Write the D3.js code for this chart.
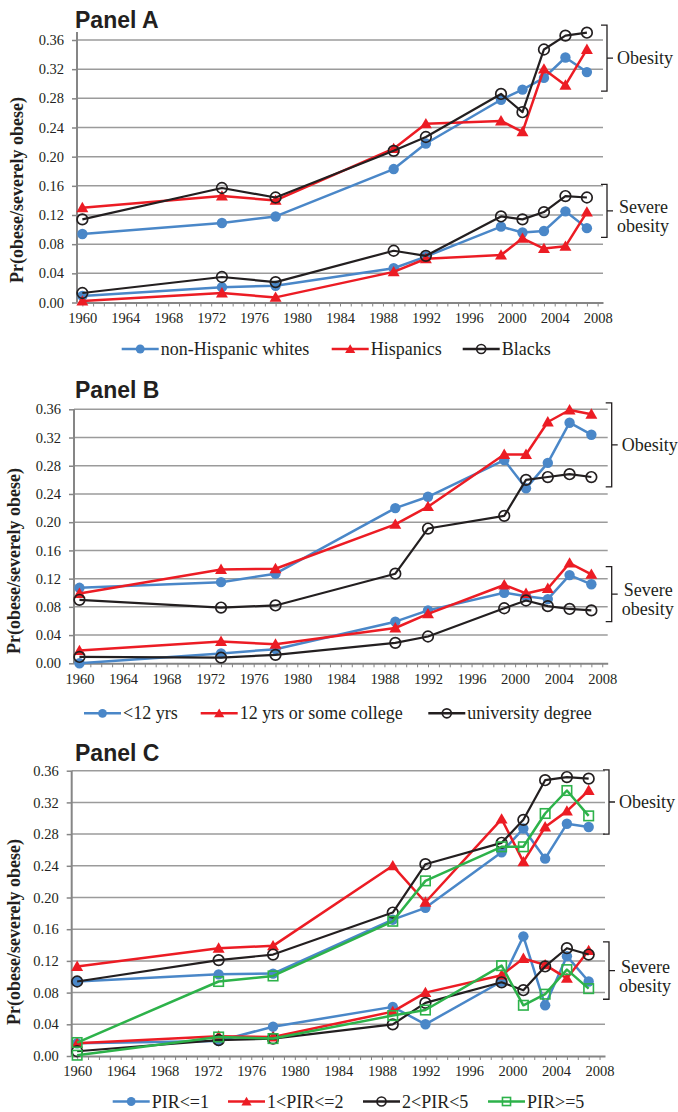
<!DOCTYPE html>
<html>
<head>
<meta charset="utf-8">
<script src="https://cdn.jsdelivr.net/npm/d3@7"></script>
<style>
  body { margin: 0; background: #fff; }
  svg { display: block; }
</style>
</head>
<body>
<div id="container"></div>
<script>
// survey years (x positions of every point)
const years = [1960, 1973, 1978, 1989, 1992, 1999, 2001, 2003, 2005, 2007];
const xTickLabels = [1960, 1964, 1968, 1972, 1976, 1980, 1984, 1988, 1992, 1996, 2000, 2004, 2008];
const yTickValues = [0, 0.04, 0.08, 0.12, 0.16, 0.20, 0.24, 0.28, 0.32, 0.36];

// Panel A - race / ethnicity
const aNames = ["non-Hispanic whites", "Hispanics", "Blacks"];
const aWhitesObese     = [0.094, 0.109, 0.118, 0.183, 0.218, 0.278, 0.292, 0.308, 0.336, 0.316];
const aHispanicsObese  = [0.130, 0.146, 0.140, 0.211, 0.245, 0.249, 0.234, 0.320, 0.298, 0.347];
const aBlacksObese     = [0.114, 0.157, 0.144, 0.208, 0.227, 0.286, 0.261, 0.347, 0.366, 0.370];
const aWhitesSevere    = [0.009, 0.021, 0.023, 0.047, 0.063, 0.104, 0.096, 0.098, 0.125, 0.102];
const aHispanicsSevere = [0.002, 0.013, 0.007, 0.042, 0.060, 0.065, 0.088, 0.074, 0.077, 0.124];
const aBlacksSevere    = [0.013, 0.035, 0.028, 0.071, 0.064, 0.118, 0.114, 0.124, 0.146, 0.144];

// Panel B - education
const bNames = ["<12 yrs", "12 yrs or some college", "university degree"];
const bLt12Obese   = [0.107, 0.115, 0.127, 0.220, 0.236, 0.288, 0.248, 0.284, 0.341, 0.324];
const bHsObese     = [0.099, 0.133, 0.134, 0.197, 0.222, 0.296, 0.296, 0.342, 0.359, 0.353];
const bUnivObese   = [0.090, 0.079, 0.082, 0.127, 0.191, 0.209, 0.260, 0.264, 0.268, 0.264];
const bLt12Severe  = [0.000, 0.014, 0.020, 0.059, 0.075, 0.100, 0.095, 0.091, 0.125, 0.112];
const bHsSevere    = [0.018, 0.031, 0.027, 0.050, 0.070, 0.111, 0.099, 0.106, 0.142, 0.126];
const bUnivSevere  = [0.009, 0.008, 0.012, 0.029, 0.038, 0.078, 0.089, 0.081, 0.077, 0.075];

// Panel C - poverty income ratio
const cNames = ["PIR<=1", "1<PIR<=2", "2<PIR<5", "PIR>=5"];
const cPir1Obese    = [0.094, 0.103, 0.104, 0.172, 0.187, 0.257, 0.287, 0.249, 0.293, 0.289];
const cPir2Obese    = [0.113, 0.136, 0.139, 0.240, 0.194, 0.299, 0.245, 0.289, 0.309, 0.335];
const cPir5Obese    = [0.094, 0.121, 0.128, 0.181, 0.242, 0.269, 0.298, 0.348, 0.352, 0.350];
const cPirHiObese   = [0.017, 0.094, 0.101, 0.170, 0.221, 0.264, 0.264, 0.306, 0.335, 0.303];
const cPir1Severe   = [0.016, 0.019, 0.037, 0.062, 0.040, 0.094, 0.151, 0.064, 0.126, 0.094];
const cPir2Severe   = [0.016, 0.025, 0.024, 0.056, 0.080, 0.102, 0.123, 0.115, 0.098, 0.133];
const cPir5Severe   = [0.006, 0.020, 0.022, 0.040, 0.067, 0.093, 0.083, 0.113, 0.136, 0.128];
const cPirHiSevere  = [0.001, 0.024, 0.022, 0.051, 0.058, 0.114, 0.064, 0.078, 0.109, 0.085];

const blue = "#4a87c8", red = "#ec1c24", black = "#231f20", green = "#2db24a";
const serif = "'Liberation Serif', 'Times New Roman', serif";

const width = 678;
const height = 1112;

// layout of the three panels
const panels = [
  {
    title: "Panel A", titleY: 28,
    left: 77, right: 603, bottom: 302.5, top: 40, axisTop: 32,
    labelX: 23, labelY: 190, legendY: 349,
    legendX: [121.7, 331.7, 462.7],
    series: [
      {name: aNames[0], color: blue, marker: "dot", lines: [aWhitesObese, aWhitesSevere]},
      {name: aNames[1], color: red, marker: "tri", lines: [aHispanicsObese, aHispanicsSevere]},
      {name: aNames[2], color: black, marker: "ring", lines: [aBlacksObese, aBlacksSevere]}
    ],
    brackets: [[0.290, 0.3805], [0.0894, 0.162]]
  },
  {
    title: "Panel B", titleY: 397.7,
    left: 74, right: 607.7, bottom: 663.3, top: 409.3, axisTop: 409.3,
    labelX: 20, labelY: 561, legendY: 713.3,
    legendX: [84, 200.7, 428.3],
    series: [
      {name: bNames[0], color: blue, marker: "dot", lines: [bLt12Obese, bLt12Severe]},
      {name: bNames[1], color: red, marker: "tri", lines: [bHsObese, bHsSevere]},
      {name: bNames[2], color: black, marker: "ring", lines: [bUnivObese, bUnivSevere]}
    ],
    brackets: [[0.250, 0.369], [0.059, 0.137]]
  },
  {
    title: "Panel C", titleY: 760.7,
    left: 71.7, right: 605, bottom: 1056, top: 770.7, axisTop: 770.7,
    labelX: 20, labelY: 932, legendY: 1101.5,
    legendX: [112.7, 228, 363, 488],
    series: [
      {name: cNames[0], color: blue, marker: "dot", lines: [cPir1Obese, cPir1Severe]},
      {name: cNames[1], color: red, marker: "tri", lines: [cPir2Obese, cPir2Severe]},
      {name: cNames[2], color: black, marker: "ring", lines: [cPir5Obese, cPir5Severe]},
      {name: cNames[3], color: green, marker: "square", lines: [cPirHiObese, cPirHiSevere]}
    ],
    brackets: [[0.280, 0.361], [0.0716, 0.144]]
  }
];

const svg = d3.create("svg")
    .attr("width", width)
    .attr("height", height)
    .attr("viewBox", [0, 0, width, height]);

svg.append("rect").attr("width", width).attr("height", height).attr("fill", "#fff");

// draw one marker shape into a group
function drawMarker(g, type, color, cx, cy, scale) {
  if (type === "dot") {
    g.append("circle").attr("cx", cx).attr("cy", cy).attr("r", 5.2 * scale).attr("fill", color);
  } else if (type === "tri") {
    g.append("path")
      .attr("d", d3.symbol(d3.symbolTriangle, 62 * scale * scale)())
      .attr("transform", `translate(${cx},${cy + 1})`)
      .attr("fill", color);
  } else if (type === "ring") {
    g.append("circle").attr("cx", cx).attr("cy", cy).attr("r", 5.3 * scale)
      .attr("fill", "none").attr("stroke", color).attr("stroke-width", 1.7);
  } else if (type === "square") {
    const s = 9.5 * scale;
    g.append("rect").attr("x", cx - s / 2).attr("y", cy - s / 2).attr("width", s).attr("height", s)
      .attr("fill", "none").attr("stroke", color).attr("stroke-width", 1.6);
  }
}

panels.forEach(p => {
  const x = d3.scaleLinear().domain([1959.5, 2008.5]).range([p.left, p.right]);
  const y = d3.scaleLinear().domain([0, 0.36]).range([p.bottom, p.top]);

  // Add the gridlines.
  svg.append("g")
    .selectAll("line")
    .data(yTickValues.filter(d => d > 0))
    .join("line")
      .attr("x1", p.left).attr("x2", p.right)
      .attr("y1", d => y(d)).attr("y2", d => y(d))
      .attr("stroke", "#9b9b9b").attr("stroke-width", 1.5);

  // Add the x-axis, a tick every year, a label every four.
  svg.append("g")
      .attr("transform", `translate(0,${p.bottom})`)
      .call(d3.axisBottom(x)
        .tickValues(d3.range(1960, 2009))
        .tickFormat(d => xTickLabels.includes(d) ? d : "")
        .tickSize(4).tickSizeOuter(0).tickPadding(6))
      .call(g => g.select(".domain").attr("stroke", "#868686").attr("stroke-width", 2))
      .call(g => g.selectAll(".tick line").attr("stroke", "#868686").attr("stroke-width", 1))
      .call(g => g.selectAll(".tick text")
        .attr("font-family", serif).attr("font-size", 14.5).attr("fill", black));

  // Add the y-axis, draw its line separately.
  svg.append("g")
      .attr("transform", `translate(${p.left},0)`)
      .call(d3.axisLeft(y)
        .tickValues(yTickValues)
        .tickFormat(d3.format(".2f"))
        .tickSize(5).tickPadding(8))
      .call(g => g.select(".domain").remove())
      .call(g => g.selectAll(".tick line").attr("stroke", "#868686").attr("stroke-width", 1.5))
      .call(g => g.selectAll(".tick text")
        .attr("font-family", serif).attr("font-size", 14.5).attr("fill", black))
      .call(g => g.append("line")
        .attr("y1", p.bottom).attr("y2", p.axisTop)
        .attr("stroke", "#868686").attr("stroke-width", 2));

  // Axis title and panel title.
  svg.append("text")
      .attr("transform", `translate(${p.labelX},${p.labelY}) rotate(-90)`)
      .attr("text-anchor", "middle")
      .attr("font-family", serif).attr("font-weight", "bold").attr("font-size", 18)
      .attr("fill", black)
      .text("Pr(obese/severely obese)");

  svg.append("text")
      .attr("x", 75).attr("y", p.titleY)
      .attr("font-family", "'Liberation Sans', Arial, sans-serif")
      .attr("font-weight", "bold").attr("font-size", 23)
      .attr("fill", black)
      .text(p.title);

  // Lines and markers for each series.
  const line = d3.line().x((d, i) => x(years[i])).y(d => y(d));
  p.series.forEach(s => {
    const g = svg.append("g");
    s.lines.forEach(vals => {
      g.append("path")
        .attr("d", line(vals))
        .attr("fill", "none")
        .attr("stroke", s.color)
        .attr("stroke-width", s.color === black ? 2.2 : 2.5)
        .attr("stroke-linejoin", "round");
      vals.forEach((v, i) => drawMarker(g, s.marker, s.color, x(years[i]), y(v), 1));
    });
  });

  // Brackets for the two groups of lines.
  const bx = p.right + 4;
  p.brackets.forEach((b, k) => {
    const y0 = y(b[1]), y1 = y(b[0]), ym = (y0 + y1) / 2;
    svg.append("path")
      .attr("d", `M${bx - 6},${y0}H${bx}V${y1}H${bx - 6}M${bx},${ym}H${bx + 6}`)
      .attr("fill", "none").attr("stroke", black).attr("stroke-width", 1.3);
    const t = svg.append("text")
      .attr("font-family", serif).attr("font-size", 18).attr("fill", black);
    if (k === 0) {
      t.attr("x", bx + 10).attr("y", ym + 6).text("Obesity");
    } else {
      t.append("tspan").attr("x", bx + 12).attr("y", ym + 2).text("Severe");
      t.append("tspan").attr("x", bx + 10).attr("y", ym + 21).text("obesity");
    }
  });

  // Legend.
  p.series.forEach((s, i) => {
    const lx = p.legendX[i], ly = p.legendY;
    const g = svg.append("g");
    g.append("line")
      .attr("x1", lx).attr("x2", lx + 37).attr("y1", ly).attr("y2", ly)
      .attr("stroke", s.color).attr("stroke-width", 2.5);
    drawMarker(g, s.marker, s.color, lx + 18.5, ly, 0.85);
    g.append("text")
      .attr("x", lx + 39).attr("y", ly + 6)
      .attr("font-family", serif).attr("font-size", 18).attr("fill", black)
      .text(s.name);
  });
});

container.append(svg.node());
</script>
</body>
</html>
